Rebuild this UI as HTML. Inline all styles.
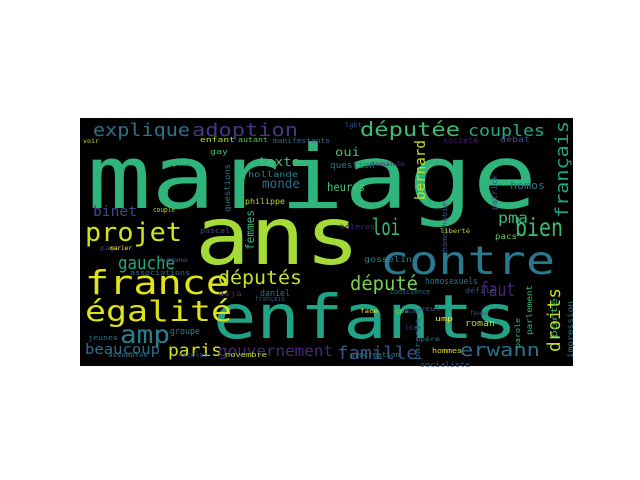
<!DOCTYPE html>
<html><head><meta charset="utf-8"><style>
html,body{margin:0;padding:0;background:#fff;}
svg{display:block;}
text{font-family:"DejaVu Sans Mono","Liberation Mono",monospace;}
</style></head><body>
<svg id="chart" width="640" height="480" viewBox="0 0 640 480" xmlns="http://www.w3.org/2000/svg">
<rect x="80" y="118" width="493" height="248" fill="#000"/>
<g id="words"></g>
</svg>
<script>
// word, x, baseline y, font size, colour, fitted width, rotated(1=vertical)
const words = ["mariage","ans","enfants","contre","france","égalité","projet","explique","adoption","députée","couples","français","gauche","amp","députés","loi","bien","pma","bernard","faut","député","droits","erwann","famille","paris","beaucoup","gouvernement","texte","monde","binet","oui","heures","homosexuels","hollande","manifestants","philippe","questions","femmes","groupe","associations","daniel","gosselin","homos","patrick","parents","pacs","hétéros","question","roman","hommes","parlement","impression","socialiste","société","débat","enfant","autant","gay","place","couple","pascal","voir","jeunes","novembre","procréation","ump","nicolas","conscience","défilé","porte","homophobie","parole","lgbt","demande","liberté","veut","assemblée","déjà","français","pays","marier","homme","gpa","loin","père","hier","face","faveur"];
const xs = [87,195,213,380,85,85,85,93,192,360,468,568,118,120,218,372,515,498,425,480,350,560,460,337,168,85,218,258,262,93,335,327,425,248,273,245,230,254,170,130,260,364,510,497,420,495,340,330,465,432,532,573,420,443,500,200,238,210,173,153,200,83,88,225,350,435,178,390,465,557,447,520,345,370,440,420,108,218,255,100,110,160,395,405,420,405,360,470];
const ys = [208,264,338,274,294,321,241,136,136,136,136,218,269,343,284,235,236,223,200,296,290,352,356,359,356,354,356,166,188,216,156,191,284,177,143,204,212,250,334,275,296,262,189,210,360,239,229,168,326,353,335,358,367,143,142,142,142,154,166,212,233,143,340,357,357,321,357,294,293,338,252,348,127,166,233,311,357,296,301,250,250,262,313,330,341,313,313,315];
const sizes = [108,98,74,48,40,35,31,22,22,24,19,22,22,30,23,28,30,18,17,24,24,22,22,22,20,17,18,15,16,17,14,14,11,10,9,10,10,14,11,9,11,10,13,10,9,10,9,11,11,9,10,10,8,10,10,9,8,9,8,8,8,7,8,8,8,9,8,8,8,10,9,9,7,7,7,8,7,7,8,7,7,7,7,8,7,7,7,7];
const colors = ["#2fb47c","#a5db36","#21a386","#2a788e","#dfe318","#dde318","#d2e21b","#2c728e","#443a83","#3fbc73","#22a884","#20a386","#22a884","#2c7f8e","#c5e021","#35b779","#3fbc73","#35b779","#c8e020","#482475","#7ad151","#bddf26","#2c728e","#3b528b","#d8e219","#2e6e8e","#482878","#4ac16d","#31688e","#3e4a89","#4ac16d","#4ac16d","#2c728e","#26828e","#31688e","#b5de2b","#2c728e","#35b779","#26828e","#33638d","#2c728e","#26828e","#2c728e","#3b528b","#2e6e8e","#6ccd5a","#482878","#2c728e","#b5de2b","#d8e219","#35b779","#2a788e","#3b528b","#481f70","#3b528b","#b5de2b","#5ec962","#4ac16d","#35b779","#b5de2b","#3e4a89","#b5de2b","#2e6e8e","#b5de2b","#26828e","#fde725","#3b528b","#2c728e","#3b528b","#35b779","#3b528b","#35b779","#3b528b","#472d7b","#b5de2b","#3b528b","#2c728e","#472d7b","#3b528b","#3e4a89","#fde725","#3e4a89","#5ec962","#443a83","#26828e","#3b528b","#fde725","#3b528b"];
const widths = [450,165,304,175,145,147,97,97,106,100,77,97,57,50,84,28,48,30,60,35,68,64,80,81,54,75,115,42,38,44,25,38,53,50,57,40,48,40,30,60,30,48,35,35,42,22,35,45,30,30,50,57,50,35,30,35,30,18,22,22,30,16,30,42,50,18,30,40,30,40,50,30,17,35,30,20,40,24,30,20,22,28,14,16,20,16,18,20];
const rot = [0,0,0,0,0,0,0,0,0,0,0,1,0,0,0,0,0,0,1,0,0,1,0,0,0,0,0,0,0,0,0,0,0,0,0,0,1,1,0,0,0,0,0,1,1,0,0,0,0,0,1,1,0,0,0,0,0,0,0,0,0,0,0,0,0,0,0,0,0,1,1,1,0,0,0,0,0,0,0,0,0,0,0,0,0,0,0,0];

const SCALE = 0.82;
const g = document.getElementById('words');
const NS = 'http://www.w3.org/2000/svg';
for (let i = 0; i < words.length; i++) {
  const t = document.createElementNS(NS, 'text');
  
  
  t.setAttribute('font-size', (sizes[i] * SCALE).toFixed(1));
  t.setAttribute('fill', colors[i]);
  t.setAttribute('textLength', widths[i]);
  t.setAttribute('lengthAdjust', 'spacingAndGlyphs');
  if (rot[i]) {
    t.setAttribute('x', 0);
    t.setAttribute('y', 0);
    t.setAttribute('transform', 'translate(' + xs[i] + ',' + ys[i] + ') rotate(-90)');
  } else {
    t.setAttribute('x', xs[i]);
    t.setAttribute('y', ys[i]);
  }
  t.textContent = words[i];
  g.appendChild(t);
}
</script>
</body></html>
